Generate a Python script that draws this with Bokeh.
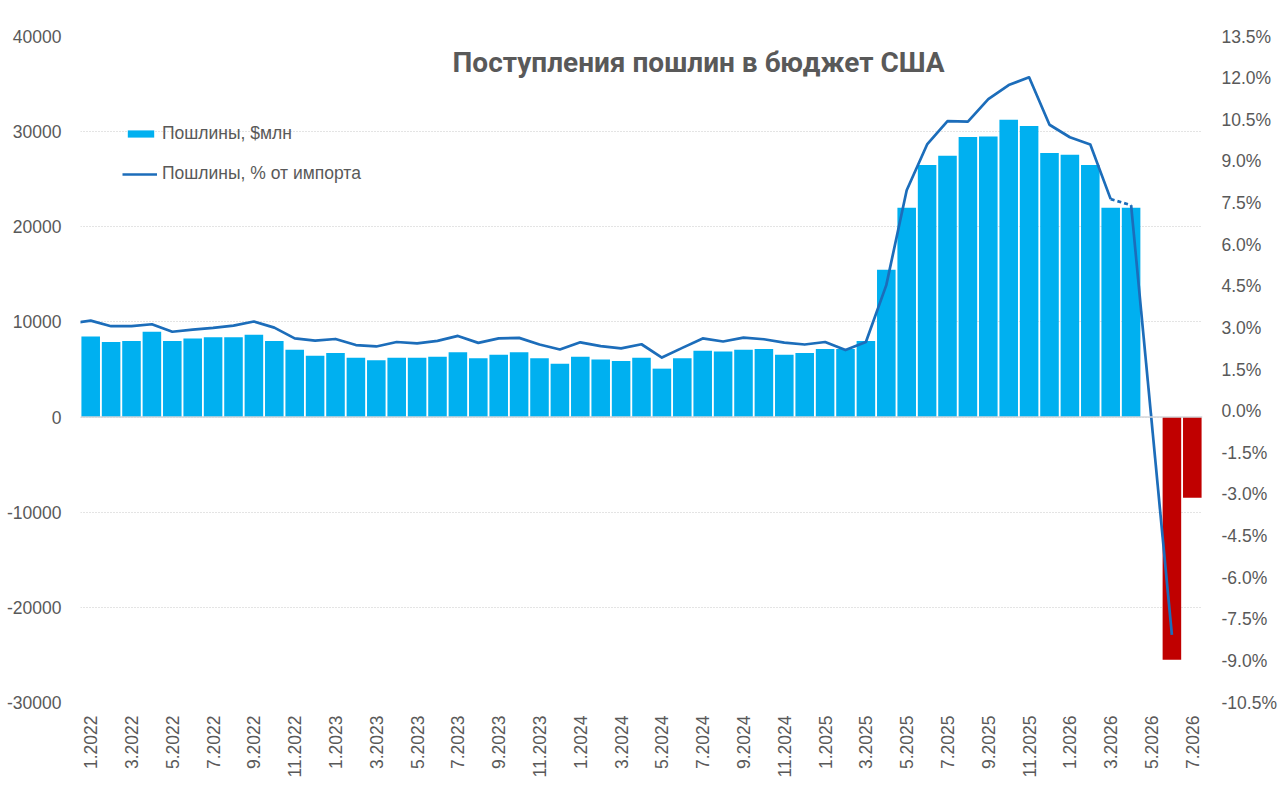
import math
from bokeh.plotting import figure
from bokeh.models import (ColumnDataSource, Range1d, LinearAxis, FixedTicker,
                          PrintfTickFormatter, Legend, LegendItem, Label, Span)
from bokeh.embed import file_html
from bokeh.resources import INLINE

# ---------------- data ----------------
months = [f"{m}.{y}" for y in range(2022, 2027) for m in range(1, 13)][:55]  # 1.2022 .. 7.2026

duties_mln = [
    8480, 7880, 7990, 8970, 7990, 8270, 8380, 8380, 8660, 7990, 7080, 6450,   # 2022
    6730, 6240, 5960, 6240, 6240, 6350, 6800, 6170, 6560, 6800, 6170, 5610,   # 2023
    6350, 6060, 5890, 6240, 5090, 6170, 6980, 6900, 7080, 7150, 6560, 6730,   # 2024
    7150, 7150, 7990, 15490, 22010, 26490, 27470, 29430, 29500, 31260, 30590, 27750,  # 2025
    27580, 26490, 22010, 22010, None, -25500, -8470,                          # 2026
]

pct_prev = 3.16  # 12.2021 (only its segment into the chart is visible)
pct_of_imports = [
    3.26, 3.06, 3.06, 3.13, 2.86, 2.94, 3.00, 3.08, 3.23, 3.01, 2.62, 2.54,
    2.60, 2.38, 2.33, 2.49, 2.44, 2.53, 2.71, 2.46, 2.62, 2.64, 2.40, 2.22,
    2.48, 2.34, 2.26, 2.41, 1.93, 2.28, 2.62, 2.51, 2.65, 2.59, 2.47, 2.40,
    2.49, 2.20, 2.49, 4.54, 7.96, 9.61, 10.45, 10.43, 11.24, 11.75, 12.03, 10.32,
    9.87, 9.61, 7.64, 7.42, None, -8.06,
]

left_ticks = [-30000, -20000, -10000, 0, 10000, 20000, 30000, 40000]
right_ticks = [-10.5, -9.0, -7.5, -6.0, -4.5, -3.0, -1.5, 0.0, 1.5, 3.0, 4.5, 6.0, 7.5, 9.0, 10.5, 12.0, 13.5]
x_tick_idx = list(range(0, 55, 2))

title_text = "Поступления пошлин в бюджет США"
bar_label = "Пошлины, $млн"
line_label = "Пошлины, % от импорта"

BLUE = "#00B0F0"
RED = "#C00000"
LINE = "#1C6DBA"
GRAY = "#595959"
FS = "17.5px"

# ---------------- figure ----------------
p = figure(width=1279, height=788, output_backend="svg", toolbar_location=None,
           x_range=Range1d(-0.5, 54.5), y_range=Range1d(-30000, 40000),
           min_border_left=80, min_border_right=76, min_border_top=36, min_border_bottom=86)
p.extra_y_ranges = {"pct": Range1d(-10.5, 13.5)}
p.outline_line_color = None
p.background_fill_color = "white"
p.xgrid.visible = False
p.ygrid.ticker = FixedTicker(ticks=left_ticks)
p.ygrid.grid_line_color = "#c8c8c8"
p.ygrid.grid_line_dash = "1 2"
p.ygrid.grid_line_width = 1

# bars
bx = [i for i, v in enumerate(duties_mln) if v is not None]
bv = [duties_mln[i] for i in bx]
bc = [BLUE if v >= 0 else RED for v in bv]
bsrc = ColumnDataSource(dict(x=bx, top=bv, color=bc))
r_bar = p.vbar(x="x", top="top", bottom=0, width=0.91, source=bsrc, fill_color="color", line_color=None)

p.add_layout(Span(location=0, dimension="width", line_color="#d3d6da", line_width=1.5))

# line: solid up to 3.2026, dashed 3.2026-4.2026, solid 4.2026 -> 6.2026 (5.2026 missing)
idx_a = [-1] + list(range(0, 51))
val_a = [pct_prev] + pct_of_imports[0:51]
r_line = p.line(idx_a, val_a, y_range_name="pct", line_color=LINE, line_width=2.7, line_join="round")
p.line([50, 51], pct_of_imports[50:52], y_range_name="pct", line_color=LINE, line_width=2.7, line_dash="4 3")
idx_c = [i for i in range(51, len(pct_of_imports)) if pct_of_imports[i] is not None]
p.line(idx_c, [pct_of_imports[i] for i in idx_c], y_range_name="pct", line_color=LINE, line_width=2.7)

# axes
ly = p.yaxis[0]
ly.ticker = FixedTicker(ticks=left_ticks)
ly.formatter = PrintfTickFormatter(format="%d")
ry = LinearAxis(y_range_name="pct", ticker=FixedTicker(ticks=right_ticks),
                formatter=PrintfTickFormatter(format="%.1f%%"))
p.add_layout(ry, "right")
xa = p.xaxis[0]
xa.ticker = FixedTicker(ticks=x_tick_idx)
xa.major_label_overrides = {i: months[i] for i in x_tick_idx}
xa.major_label_orientation = math.pi / 2

for ax in (ly, ry, xa):
    ax.axis_line_color = None
    ax.major_tick_line_color = None
    ax.minor_tick_line_color = None
    ax.major_tick_out = 0
    ax.major_tick_in = 0
    ax.minor_tick_out = 0
    ax.minor_tick_in = 0
    ax.major_label_text_font = "Liberation Sans"
    ax.major_label_text_font_size = FS
    ax.major_label_text_color = GRAY
ly.major_label_standoff = 19
ry.major_label_standoff = 19
xa.major_label_standoff = 13

# legends (frame height 666 px)
leg_bar = Legend(items=[LegendItem(label=bar_label, renderers=[r_bar], index=0)],
                 location=(44, 558), padding=0, spacing=0, margin=0,
                 label_height=9, glyph_height=9, glyph_width=33, label_standoff=5,
                 label_text_font="Liberation Sans", label_text_font_size=FS,
                 label_text_color=GRAY, background_fill_alpha=0, border_line_color=None)
leg_line = Legend(items=[LegendItem(label=line_label, renderers=[r_line])],
                  location=(42, 518), padding=0, spacing=0, margin=0,
                  label_height=20, glyph_height=20, glyph_width=35, label_standoff=5,
                  label_text_font="Liberation Sans", label_text_font_size=FS,
                  label_text_color=GRAY, background_fill_alpha=0, border_line_color=None)
p.add_layout(leg_bar)
p.add_layout(leg_line)

# title inside plot
p.add_layout(Label(x=29.8, y=37280, text=title_text, text_align="center", text_baseline="middle",
                   text_font="Roboto", text_font_style="bold", text_font_size="28px",
                   text_color=GRAY))

open("out.html", "w").write(file_html(p, INLINE))
